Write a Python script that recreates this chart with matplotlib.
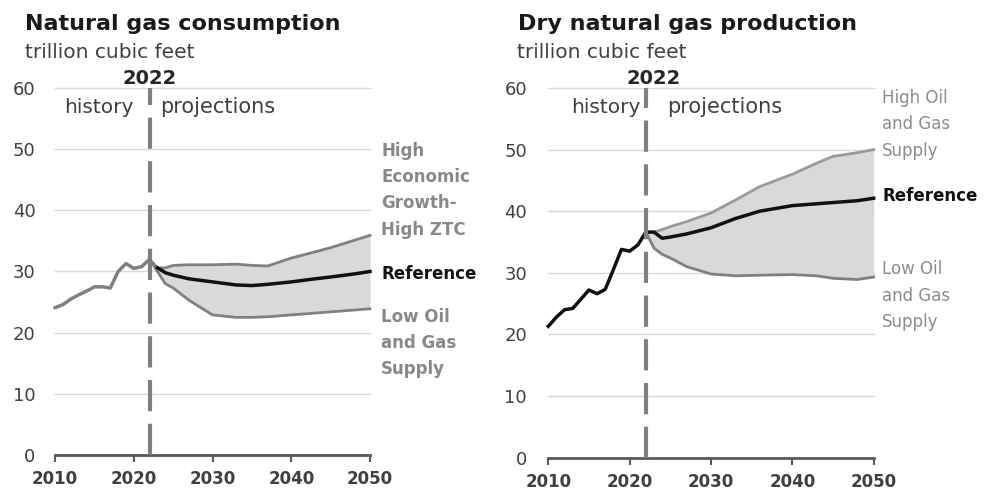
import matplotlib

matplotlib.use("Agg")
import matplotlib.pyplot as plt

plt.rcParams["font.family"] = ["DejaVu Sans"]

# consumption, trillion cubic feet
cons_hist_years = [2010, 2011, 2012, 2013, 2014, 2015, 2016, 2017, 2018, 2019, 2020, 2021, 2022]
cons_hist = [24.1, 24.6, 25.5, 26.2, 26.8, 27.5, 27.5, 27.3, 30.0, 31.3, 30.5, 30.8, 32.0]
cons_proj_years = [2022, 2023, 2024, 2025, 2027, 2030, 2033, 2035, 2037, 2040, 2043, 2045, 2048, 2050]
cons_ref = [32.0, 30.6, 29.8, 29.4, 28.8, 28.3, 27.8, 27.7, 27.9, 28.3, 28.8, 29.1, 29.6, 30.0]
cons_high = [32.0, 30.6, 30.6, 31.0, 31.1, 31.1, 31.2, 31.0, 30.9, 32.2, 33.2, 33.9, 35.1, 35.9]
cons_low = [32.0, 30.0, 28.0, 27.3, 25.3, 22.9, 22.5, 22.5, 22.6, 22.9, 23.2, 23.4, 23.7, 23.9]

# dry production, trillion cubic feet
prod_hist_years = [2010, 2011, 2012, 2013, 2014, 2015, 2016, 2017, 2018, 2019, 2020, 2021, 2022]
prod_hist = [21.3, 22.8, 24.0, 24.2, 25.7, 27.2, 26.6, 27.3, 30.5, 33.8, 33.5, 34.5, 36.6]
prod_proj_years = [2022, 2023, 2024, 2025, 2027, 2030, 2033, 2036, 2040, 2043, 2045, 2048, 2050]
prod_ref = [36.6, 36.6, 35.6, 35.8, 36.3, 37.3, 38.8, 40.0, 40.9, 41.2, 41.4, 41.7, 42.1]
prod_high = [36.6, 36.6, 37.0, 37.5, 38.3, 39.7, 41.8, 44.0, 46.0, 47.8, 48.9, 49.5, 50.0]
prod_low = [36.6, 34.0, 33.0, 32.4, 31.0, 29.8, 29.5, 29.6, 29.7, 29.5, 29.1, 28.9, 29.3]

x_ticks = [2010, 2020, 2030, 2040, 2050]
y_ticks = [0, 10, 20, 30, 40, 50, 60]

DARK = "#404040"
MID = "#808080"
FILL = "#d9d9d9"


def style_axes(ax, ypad, hist_x, proj_x, year_x):
    ax.set_xlim(2009.6, 2050.4)
    ax.set_ylim(0, 60)
    for side in ["top", "right", "left"]:
        ax.spines[side].set_visible(False)
    ax.spines["bottom"].set_color("#595959")
    ax.spines["bottom"].set_linewidth(2)
    ax.spines["bottom"].set_bounds(2010, 2050)
    ax.set_xticks(x_ticks)
    ax.set_yticks(y_ticks)
    ax.tick_params(axis="x", direction="out", length=5, width=1.5, color="#595959",
                   labelsize=12, labelcolor=DARK, pad=6)
    ax.tick_params(axis="y", length=0, labelsize=13, labelcolor=DARK, pad=ypad)
    for lab in ax.get_xticklabels():
        lab.set_fontweight("bold")
    for y in y_ticks[1:]:
        ax.plot([2010, 2050], [y, y], color=FILL, lw=1, zorder=0, clip_on=False)
    ax.plot([2022, 2022], [0, 60], color=MID, lw=3, dashes=(7.5, 3), zorder=4)
    ax.text(year_x, 60.6, "2022", ha="center", va="baseline", fontsize=14, fontweight="bold", color="#262626")
    ax.text(hist_x, 55.9, "history", ha="right", va="baseline", fontsize=14.5, color=DARK)
    ax.text(proj_x, 55.9, "projections", ha="left", va="baseline", fontsize=15, color=DARK)


def side_label(ax, y, text, color, weight, dx):
    ax.annotate(text, xy=(2050, y), xytext=(dx, 0), textcoords="offset points",
                ha="left", va="center", fontsize=12, color=color, fontweight=weight,
                linespacing=1.6, annotation_clip=False)


fig = plt.figure(figsize=(9.85, 4.93), dpi=100)
ax1 = fig.add_axes([0.0528, 0.0771, 0.326, 0.7444])
ax2 = fig.add_axes([0.5533, 0.0720, 0.337, 0.7495])

# consumption panel
style_axes(ax1, 12, 2019.9, 2023.4, 2022)
ax1.fill_between(cons_proj_years, cons_low, cons_high, color=FILL, lw=0, zorder=1)
ax1.plot(cons_proj_years, cons_high, color=MID, lw=2, zorder=2)
ax1.plot(cons_proj_years, cons_low, color=MID, lw=2, zorder=2)
ax1.plot(cons_hist_years, cons_hist, color=MID, lw=2.5, zorder=3)
ax1.plot(cons_proj_years[1:], cons_ref[1:], color="#111111", lw=2.5, zorder=3)
side_label(ax1, 43.3, "High\nEconomic\nGrowth-\nHigh ZTC", "#888888", "bold", 8)
side_label(ax1, 29.6, "Reference", "#111111", "bold", 8)
side_label(ax1, 18.3, "Low Oil\nand Gas\nSupply", "#888888", "bold", 8)

# production panel
style_axes(ax2, 13, 2021.3, 2024.6, 2023.0)
ax2.fill_between(prod_proj_years, prod_low, prod_high, color=FILL, lw=0, zorder=1)
ax2.plot(prod_proj_years, prod_high, color="#9a9a9a", lw=2, zorder=2)
ax2.plot(prod_proj_years, prod_low, color=MID, lw=2, zorder=2)
ax2.plot(prod_hist_years, prod_hist, color="#111111", lw=2.5, zorder=3)
ax2.plot(prod_proj_years, prod_ref, color="#111111", lw=2.5, zorder=3)
side_label(ax2, 54.1, "High Oil\nand Gas\nSupply", "#8c8c8c", "normal", 6)
side_label(ax2, 42.4, "Reference", "#111111", "bold", 6)
side_label(ax2, 26.3, "Low Oil\nand Gas\nSupply", "#8c8c8c", "normal", 6)

fig.text(0.0254, 0.939, "Natural gas consumption", ha="left", va="baseline",
         fontsize=16, fontweight="bold", color="#1a1a1a")
fig.text(0.0254, 0.882, "trillion cubic feet", ha="left", va="baseline", fontsize=14.5, color=DARK)
fig.text(0.526, 0.939, "Dry natural gas production", ha="left", va="baseline",
         fontsize=16, fontweight="bold", color="#1a1a1a")
fig.text(0.525, 0.882, "trillion cubic feet", ha="left", va="baseline", fontsize=14.5, color=DARK)

fig.savefig("out.png", dpi=100, facecolor="white")
